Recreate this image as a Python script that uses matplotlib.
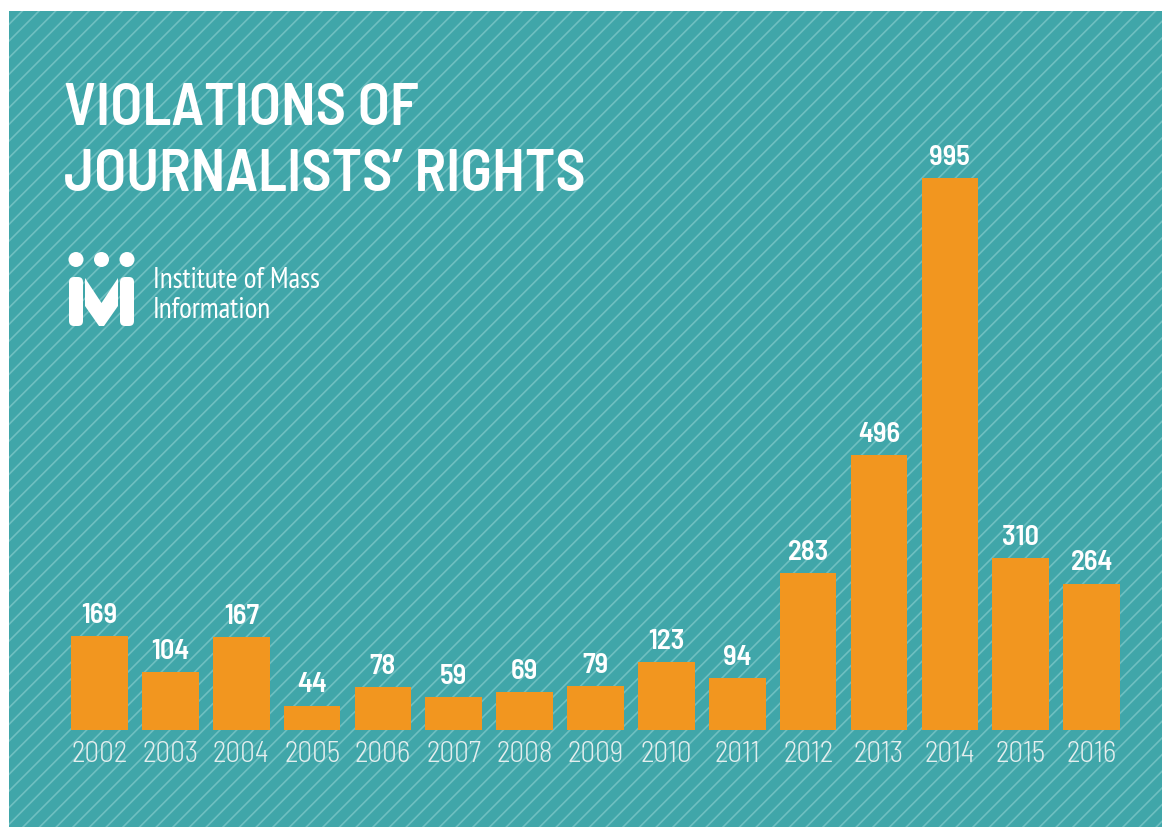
import matplotlib
matplotlib.use("Agg")
import matplotlib.pyplot as plt
from matplotlib.patches import Rectangle, Circle, FancyBboxPatch, Polygon

# data
years = ['2002', '2003', '2004', '2005', '2006', '2007', '2008', '2009',
         '2010', '2011', '2012', '2013', '2014', '2015', '2016']
violations = [169, 104, 167, 44, 78, 59, 69, 79, 123, 94, 283, 496, 995, 310, 264]

teal = '#40a6a9'
stripe = '#6fbfc1'
orange = '#f2961f'
cond = ['Barlow Semi Condensed', 'Barlow Condensed', 'DejaVu Sans']
narrow = ['PT Sans Narrow', 'Barlow Condensed', 'DejaVu Sans']

plt.rcParams['hatch.linewidth'] = 1.2

W, H = 1162, 827
fig = plt.figure(figsize=(W / 100, H / 100), dpi=100, facecolor='white')

# background layer in pixel coordinates
bg = fig.add_axes([0, 0, 1, 1], zorder=-5)
bg.set_xlim(0, W)
bg.set_ylim(H, 0)
bg.axis('off')
bg.add_patch(Rectangle((9, 11), W - 9, H - 11, facecolor=teal, edgecolor=stripe,
                       hatch='//', linewidth=0))

# logo
for cx in [76, 101.5, 127]:
    bg.add_patch(Circle((cx, 259.5), 7.5, color='white', lw=0))
for x0 in [69, 120]:
    bg.add_patch(FancyBboxPatch((x0, 277), 14, 49, boxstyle='round,pad=0,rounding_size=5',
                                color='white', lw=0))
bg.add_patch(Polygon([(85, 278), (101.5, 303), (118, 278), (118, 306), (104, 326),
                      (99, 326), (85, 306)], closed=True, color='white', lw=0))
bg.text(153, 288, 'Institute of Mass', color='white', fontsize=21, family=narrow,
        va='baseline', ha='left')
bg.text(153, 318, 'Information', color='white', fontsize=21, family=narrow,
        va='baseline', ha='left')

# title
bg.text(64, 125, 'VIOLATIONS OF', color='white', fontsize=42.5, fontweight=600,
        family=cond, va='baseline', ha='left')
bg.text(64, 191, 'JOURNALISTS\u2019 RIGHTS', color='white', fontsize=42.5, fontweight=600,
        family=cond, va='baseline', ha='left')

# bar chart
left = 64.1 / W
bottom = (H - 730) / H
ax = fig.add_axes([left, bottom, 1062.9 / W, 610 / H], zorder=1)
ax.patch.set_alpha(0)
x = list(range(len(years)))
ax.bar(x, violations, width=0.8, color=orange, linewidth=0)
ax.set_xlim(-0.5, len(years) - 0.5)
ax.set_ylim(0, 1100)
for s in ax.spines.values():
    s.set_visible(False)
ax.set_yticks([])
ax.set_xticks(x)
ax.set_xticklabels(years, fontsize=21, family=cond, fontweight=300, color='#e4eeee')
ax.tick_params(axis='x', length=0, pad=8)

for xi, v in zip(x, violations):
    ax.annotate(str(v), (xi, v), xytext=(0, 9.5), textcoords='offset points',
                ha='center', va='baseline', color='white', fontsize=20.5,
                fontweight=600, family=cond)

fig.savefig('out.png', dpi=100, facecolor='white')
